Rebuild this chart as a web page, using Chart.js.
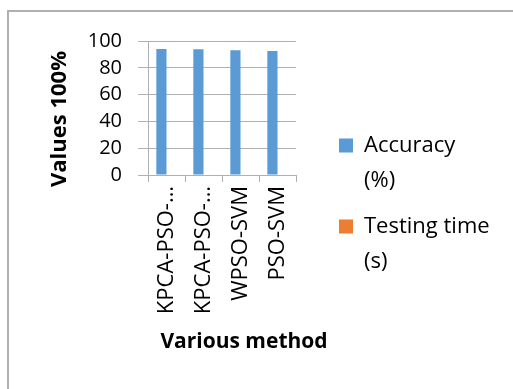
<!DOCTYPE html>
<html>
<head>
<meta charset="utf-8">
<script src="https://cdn.jsdelivr.net/npm/chart.js@4.4.1/dist/chart.umd.min.js"></script>
<style>
  html, body { margin: 0; padding: 0; background: #fff; overflow: hidden; }
  #frame {
    position: absolute; left: 7px; top: 10px; width: 600px; height: 500px;
    border-left: 2px solid #b0b0b0; border-top: 2px solid #b0b0b0;
  }
  #chart { position: absolute; left: 0; top: 0; }
</style>
</head>
<body>
<div id="frame"></div>
<canvas id="chart" width="513" height="389"></canvas>
<script>
const methods = ['KPCA-PSO-…', 'KPCA-PSO-…', 'WPSO-SVM', 'PSO-SVM'];
const accuracy = [94.0, 93.8, 93.1, 92.6];
const testingTime = [0, 0, 0, 0];  // too small to see at this scale
const yTicks = [0, 20, 40, 60, 80, 100];
const xTitle = 'Various method';
const yTitle = 'Values 100%';

const FONT = "'Open Sans', 'Liberation Sans', sans-serif";
const gridColor = '#b0b0b0';

// axis titles drawn by hand: Chart.js squeezes them to the plot size
const axisTitles = {
  id: 'axisTitles',
  afterDraw(chart) {
    const { ctx, chartArea: a } = chart;
    ctx.save();
    ctx.fillStyle = '#000';
    ctx.textAlign = 'center';
    ctx.textBaseline = 'middle';
    ctx.font = 'bold 21px ' + FONT;
    ctx.fillText(xTitle, (a.left + a.right) / 2 + 22, a.bottom + 167);
    ctx.translate(60, (a.top + a.bottom) / 2 + 11);
    ctx.rotate(-Math.PI / 2);
    ctx.font = 'bold 22px ' + FONT;
    ctx.fillText(yTitle, 0, 0);
    ctx.restore();
  }
};

const ctx = document.getElementById('chart').getContext('2d');

new Chart(ctx, {
  type: 'bar',
  data: {
    labels: methods,
    datasets: [
      { label: 'Accuracy (%)', data: accuracy, backgroundColor: '#5b9bd5' },
      { label: 'Testing time (s)', data: testingTime, backgroundColor: '#ed7d31' }
    ]
  },
  options: {
    responsive: false,
    animation: false,
    devicePixelRatio: 1,
    datasets: { bar: { categoryPercentage: 0.55, barPercentage: 1 } },
    layout: { padding: { top: 41, left: 0, right: 15, bottom: 10 } },
    plugins: {
      tooltip: { enabled: false },
      legend: {
        position: 'right',
        maxWidth: 170,
        labels: {
          boxWidth: 14,
          boxHeight: 14,
          padding: 11,
          color: '#000',
          font: { family: FONT, size: 22, lineHeight: '35px' },
          generateLabels(chart) {
            const split = [['Accuracy', '(%)'], ['Testing time', '(s)']];
            return chart.data.datasets.map((ds, i) => ({
              text: split[i],
              fillStyle: ds.backgroundColor,
              strokeStyle: ds.backgroundColor,
              lineWidth: 0,
              hidden: false,
              datasetIndex: i
            }));
          }
        }
      }
    },
    scales: {
      x: {
        grid: { display: true, drawOnChartArea: false, drawTicks: true, tickLength: 7, color: gridColor, offset: true },
        border: { display: true, color: gridColor },
        ticks: {
          autoSkip: false, minRotation: 90, maxRotation: 90, padding: 4,
          color: '#000', font: { family: FONT, size: 22 }
        },
        afterFit(scale) { scale.height = 204; }
      },
      y: {
        min: yTicks[0], max: yTicks[yTicks.length - 1],
        afterBuildTicks(scale) { scale.ticks = yTicks.map(v => ({ value: v })); },
        grid: { color: gridColor, tickLength: 10 },
        border: { display: true, color: gridColor },
        ticks: { autoSkip: false, padding: 16, color: '#000', font: { family: FONT, size: 20 } },
        afterFit(scale) { scale.width = 148; }
      },
      spacer: {
        position: 'right',
        display: true,
        grid: { display: false },
        border: { display: false },
        ticks: { display: false },
        afterFit(scale) { scale.width = 32; }
      }
    }
  },
  plugins: [axisTitles]
});
</script>
</body>
</html>
